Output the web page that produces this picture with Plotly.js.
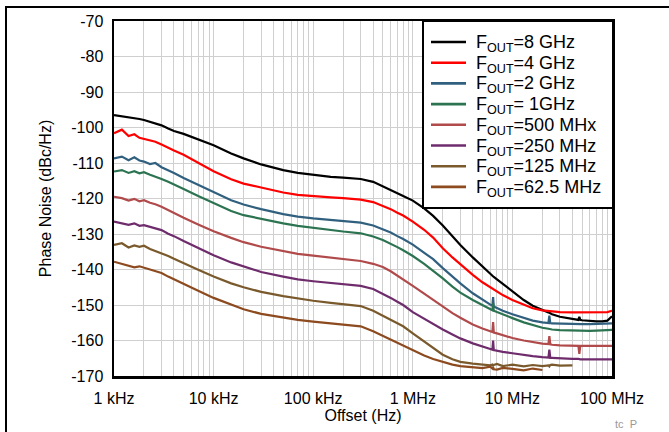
<!DOCTYPE html>
<html>
<head>
<meta charset="utf-8">
<script src="https://cdn.plot.ly/plotly-3.0.1.min.js"></script>
<style>
html,body{margin:0;padding:0;background:#fff;}
#wrap{position:relative;width:669px;height:432px;overflow:hidden;}
#chart{position:absolute;left:0;top:0;width:669px;height:432px;}
#frame{position:absolute;left:5px;top:6px;width:700px;height:500px;border-top:2px solid #000;border-left:2px solid #000;pointer-events:none;}
</style>
</head>
<body>
<div id="wrap"><div id="chart"></div><div id="frame"></div></div>
<script>
// Offset frequency (Hz)
const freq = [1e3,1.2e3,1.4e3,1.6e3,1.8e3,2e3,2.3e3,2.6e3,3e3,3.5e3,4e3,5e3,7e3,1e4,1.5e4,2e4,3e4,5e4,7e4,1e5,1.5e5,2e5,3e5,4e5,5e5,6e5,7e5,8e5,1e6,1.3e6,1.6e6,2e6,2.5e6,3e6,4e6,5e6,6e6,6.3e6,6.4e6,6.5e6,7e6,8e6,1e7,1.3e7,1.6e7,2e7,2.3e7,2.35e7,2.4e7,2.5e7,3e7,4e7,4.6e7,4.7e7,4.8e7,5e7,6e7,7e7,8e7,9e7,1e8];

const pn8G   = [-96.5,-96.8,-97.0,-97.3,-97.6,-97.9,-98.4,-98.9,-99.4,-100.3,-101.0,-101.8,-103.3,-105.0,-107.3,-108.7,-110.4,-112.0,-112.8,-113.4,-113.9,-114.1,-114.5,-115.3,-116.5,-117.5,-118.5,-119.3,-120.6,-122.8,-124.9,-127.6,-130.6,-133.1,-136.6,-139.2,-141.2,-141.7,-141.9,-142.1,-142.8,-144.1,-146.2,-148.6,-150.2,-151.5,-152.1,-152.2,-152.4,-152.6,-153.3,-154.0,-154.2,-153.3,-154.2,-154.3,-154.5,-154.6,-154.6,-154.4,-153.2];
const pn4G   = [-101.6,-100.6,-102.4,-101.9,-102.9,-103.2,-103.6,-104.0,-104.8,-105.8,-106.5,-107.7,-110.0,-112.3,-114.6,-115.8,-116.9,-118.3,-119.0,-119.4,-119.7,-119.9,-120.3,-121.0,-122.0,-123.0,-124.0,-124.8,-126.5,-128.8,-131.0,-134.0,-136.6,-138.6,-141.5,-143.6,-145.0,-145.4,-145.5,-145.7,-146.2,-147.2,-148.6,-150.0,-150.9,-151.5,-151.7,-151.8,-151.8,-151.9,-152.0,-152.1,-152.1,-152.1,-152.1,-152.1,-152.1,-152.0,-152.0,-152.0,-151.6];
const pn2G   = [-108.7,-108.2,-109.2,-108.4,-109.3,-109.6,-110.3,-110.0,-111.2,-112.0,-112.8,-114.2,-116.2,-118.2,-120.5,-121.7,-123.0,-124.4,-125.1,-125.6,-126.0,-126.3,-126.8,-127.6,-128.6,-129.6,-130.6,-131.4,-133.0,-135.2,-137.1,-139.6,-142.0,-143.9,-146.7,-148.6,-149.9,-150.2,-147.8,-150.4,-150.9,-151.6,-152.6,-153.7,-154.4,-154.9,-155.1,-153.0,-155.1,-155.2,-155.3,-155.4,-155.4,-155.4,-155.4,-155.4,-155.4,-155.3,-155.3,-155.3,-155.2];
const pn1G   = [-112.4,-112.0,-112.8,-112.3,-112.9,-112.6,-113.3,-113.8,-114.5,-115.3,-116.0,-117.3,-119.3,-121.3,-123.5,-124.7,-125.8,-127.0,-127.7,-128.3,-128.9,-129.3,-129.8,-130.7,-131.7,-132.7,-133.7,-134.6,-136.2,-138.4,-140.3,-142.5,-144.8,-146.5,-148.6,-150.0,-151.2,-151.5,-149.5,-151.6,-152.0,-152.7,-153.7,-154.9,-155.7,-156.4,-156.7,-156.8,-156.8,-156.9,-157.1,-157.2,-157.2,-157.3,-157.3,-157.3,-157.3,-157.2,-157.1,-157.1,-157.0];
const pn500M = [-119.5,-119.9,-120.6,-120.1,-120.8,-120.5,-121.2,-121.6,-122.3,-123.3,-124.0,-125.4,-127.3,-129.2,-131.1,-132.3,-133.6,-134.9,-135.6,-136.1,-136.6,-137.0,-137.6,-138.4,-139.3,-140.5,-141.7,-142.7,-144.6,-146.8,-148.6,-150.5,-152.3,-153.6,-155.5,-156.6,-157.4,-157.6,-154.8,-157.8,-158.0,-158.5,-159.3,-160.0,-160.5,-160.9,-161.0,-158.8,-161.1,-161.2,-161.4,-161.5,-161.5,-163.8,-161.5,-161.5,-161.5,-161.5,-161.5,-161.5,-161.5];
const pn250M = [-126.5,-126.9,-127.4,-127.0,-127.7,-127.5,-128.0,-128.5,-128.9,-129.9,-130.6,-132.0,-134.0,-136.0,-138.0,-139.2,-140.7,-142.0,-142.8,-143.3,-143.8,-144.1,-144.6,-145.5,-146.8,-148.0,-149.1,-150.0,-152.0,-153.9,-155.4,-156.9,-158.3,-159.4,-160.8,-161.8,-162.4,-162.6,-160.0,-162.7,-162.9,-163.2,-163.6,-164.1,-164.4,-164.7,-164.8,-162.6,-164.9,-164.9,-165.1,-165.2,-165.2,-165.3,-165.3,-165.3,-165.3,-165.3,-165.3,-165.3,-165.3];
const pn125M = [-133.1,-132.6,-133.8,-133.2,-133.6,-133.3,-134.2,-134.8,-135.3,-136.2,-137.0,-138.3,-140.1,-142.0,-143.9,-145.0,-146.3,-147.5,-148.2,-148.8,-149.4,-149.8,-150.3,-151.6,-153.0,-154.2,-155.2,-156.0,-158.0,-160.3,-162.1,-164.0,-165.3,-166.0,-166.5,-166.8,-167.0,-166.8,-167.1,-166.9,-166.6,-167.2,-166.8,-167.3,-166.9,-167.2,-167.0,-167.3,-166.9,-166.8,-167.1,-167.0,null,null,null,null,null,null,null,null,null];
const pn62M  = [-137.8,-138.5,-138.9,-139.4,-139.1,-139.5,-140.0,-140.6,-141.0,-142.0,-142.8,-144.0,-146.0,-148.0,-150.0,-151.2,-152.5,-153.6,-154.2,-154.7,-155.2,-155.5,-156.0,-157.4,-158.7,-159.8,-160.7,-161.4,-162.7,-164.2,-165.2,-166.0,-166.8,-167.2,-167.5,-167.8,-167.4,-167.9,-167.6,-168.1,-168.2,-167.7,-168.0,-168.4,-167.9,-168.3,null,null,null,null,null,null,null,null,null,null,null,null,null,null,null];

const seriesNames = ["F<sub>OUT</sub>=8 GHz","F<sub>OUT</sub>=4 GHz","F<sub>OUT</sub>=2 GHz","F<sub>OUT</sub>= 1GHz","F<sub>OUT</sub>=500 MHx","F<sub>OUT</sub>=250 MHz","F<sub>OUT</sub>=125 MHz","F<sub>OUT</sub>=62.5 MHz"];
const seriesData = [pn8G,pn4G,pn2G,pn1G,pn500M,pn250M,pn125M,pn62M];
const seriesColors = ["#000000","#ff0000","#31607f","#2c7451","#b04a4b","#6e2c6c","#7a5a2c","#8c4a1e"];

const xTickVals = [1e3,1e4,1e5,1e6,1e7,1e8];
const xTickText = ["1 kHz","10 kHz","100 kHz","1 MHz","10 MHz","100 MHz"];
const yTickVals = [-70,-80,-90,-100,-110,-120,-130,-140,-150,-160,-170];
const yTickText = ["-70","-80","-90","-100","-110","-120","-130","-140","-150","-160","-170"];

// grid positions (1..9 per decade), labels only on decades
const gridVals = [];
const gridText = [];
for (let d = 3; d <= 8; d++) {
  for (let m = 1; m <= 9; m++) {
    const v = m * Math.pow(10, d);
    if (v > 1e8) break;
    gridVals.push(v);
    const idx = xTickVals.indexOf(v);
    gridText.push(idx >= 0 ? xTickText[idx] : "");
  }
}

const traces = seriesData.map((y, i) => ({
  x: freq, y: y, type: "scatter", mode: "lines",
  name: seriesNames[i],
  line: {color: seriesColors[i], width: 2.2},
  connectgaps: false, showlegend: false
}));

const font = "Liberation Sans, Arial, sans-serif";

// Legend box drawn in paper coordinates (plot area: x 114..612, y 21..376)
const plotL = 114, plotW = 498, plotB = 376, plotH = 355;
const px = v => (v - plotL) / plotW;
const py = v => (plotB - v) / plotH;
const shapes = [{
  type: "rect", xref: "paper", yref: "paper",
  x0: px(423), x1: px(613), y0: py(208), y1: py(21),
  fillcolor: "#ffffff", line: {color: "#000", width: 2}, layer: "above"
}];
const annotations = [];
seriesNames.forEach((n, i) => {
  const yc = 42 + i * 20.7;
  shapes.push({type: "line", xref: "paper", yref: "paper",
    x0: px(431), x1: px(466), y0: py(yc), y1: py(yc),
    line: {color: seriesColors[i], width: 2.6}, layer: "above"});
  annotations.push({text: n, xref: "paper", yref: "paper",
    x: px(474), y: py(yc + 1.5), xanchor: "left", yanchor: "middle",
    showarrow: false, align: "left",
    font: {size: 18, family: font, color: "#000"}});
});
annotations.push({
  text: "tc  P", xref: "paper", yref: "paper", x: px(626), y: py(424),
  xanchor: "center", yanchor: "middle", showarrow: false,
  font: {size: 11, color: "#999999", family: font}
});

const layout = {
  width: 669, height: 432,
  margin: {l: 114, r: 57, t: 21, b: 56, pad: 0},
  paper_bgcolor: "#ffffff", plot_bgcolor: "#ffffff",
  showlegend: false,
  font: {family: font, color: "#000", size: 15},
  xaxis: {
    type: "log", range: [3, 8],
    tickmode: "array", tickvals: gridVals, ticktext: gridText,
    showgrid: true, gridcolor: "#cfcfcf", gridwidth: 1,
    showline: true, linecolor: "#000", linewidth: 2.5, mirror: true,
    ticks: "", ticklabelstandoff: 6, tickfont: {size: 16, family: font},
    zeroline: false,
    title: {text: "Offset (Hz)", font: {size: 16, family: font}, standoff: 4}
  },
  yaxis: {
    range: [-170, -70],
    tickmode: "array", tickvals: yTickVals, ticktext: yTickText,
    showgrid: true, gridcolor: "#cfcfcf", gridwidth: 1,
    showline: true, linecolor: "#000", linewidth: 2.5, mirror: true,
    ticks: "", ticklabelstandoff: 5, tickfont: {size: 16, family: font},
    zeroline: false,
    title: {text: "Phase Noise (dBc/Hz)", font: {size: 16, family: font}, standoff: 16}
  },
  shapes: shapes,
  annotations: annotations
};

Plotly.newPlot("chart", traces, layout, {staticPlot: true, displayModeBar: false});
</script>
</body>
</html>
